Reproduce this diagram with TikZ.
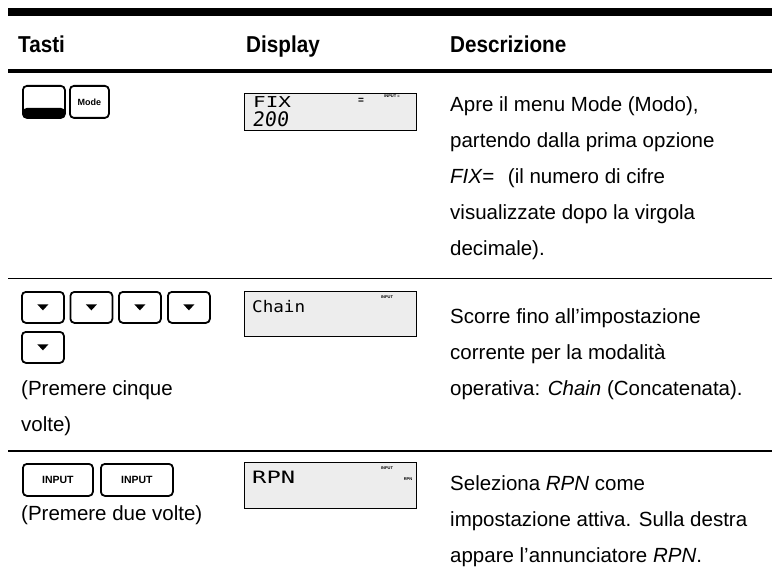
\documentclass[tikz,border=0pt]{standalone}
\usepackage{fontspec}
\usetikzlibrary{calc}
\setmainfont{Liberation Sans}
\newfontfamily\hdfont{Liberation Sans}[FakeStretch=0.9]
\newfontfamily\lcdA{DejaVu Sans Mono}[FakeStretch=1.4]
\newfontfamily\lcdB{DejaVu Sans Mono}[FakeStretch=1.1]
\newfontfamily\lcdD{DejaVu Sans Mono}[FakeSlant=0.12]
\definecolor{lcdgray}{HTML}{EDEDED}
\begin{document}
\begin{tikzpicture}[x=1pt,y=-1pt,
  body/.style={anchor=base west, inner sep=0pt, font=\fontsize{20.5}{24}\selectfont},
  head/.style={anchor=base west, inner sep=0pt, font=\hdfont\bfseries\fontsize{23}{27}\selectfont},
  key/.style={draw=black, line width=1.8pt, rounded corners=4pt, fill=white, inner sep=0pt, anchor=north west},
  keydown/.style={key, minimum width=42pt, minimum height=31pt},
  keyshift/.style={key, minimum width=42pt, minimum height=32pt,
    path picture={\fill[black] (path picture bounding box.south west) rectangle ([yshift=10pt]path picture bounding box.south east);}},
  keylbl/.style={font=\bfseries\fontsize{10.5}{12}\selectfont},
  lcd/.style={draw=black, line width=1.3pt, fill=lcdgray, inner sep=0pt, anchor=north west, minimum width=172pt},
  lcdtxt/.style={anchor=base west, inner sep=0pt},
  ann/.style={inner sep=0pt, font=\bfseries\fontsize{4}{4}\selectfont}
]
\useasboundingbox (0,0) rectangle (772,578);
% rules
\fill (8,8) rectangle (772,16);
\fill (8,69) rectangle (772,73);
\fill (8,277.6) rectangle (772,279.4);
\fill (8,450.1) rectangle (772,451.9);

% header
\node[head] (h1) at (18,53) {Tasti};
\node[head] (h2) at (246,53) {Display};
\node[head] (h3) at (450,53) {Descrizione};

% ---------- row 1
\node[keyshift] (k11) at (22,85) {};
\node[key, keylbl, minimum width=39pt, minimum height=32pt, font=\bfseries\fontsize{9}{10}\selectfont] (k12) at (69,85) {Mode};
\node[lcd, minimum height=37pt] (d1) at (244,93) {};
\node[lcdtxt, font=\lcdA\fontsize{15}{15}\selectfont] (d1a) at (253,107) {FIX};
\node[lcdtxt, font=\lcdD\fontsize{20}{20}\selectfont] (d1b) at (252,127) {200};
\node[inner sep=0pt, font=\bfseries\fontsize{10}{10}\selectfont] (d1c) at (361,101) {=};
\node[ann] (d1d) at (392,96) {INPUT =};

\node[body] (t11) at (450,111) {Apre il menu Mode (Modo),};
\node[body] (t12) at (450,147) {partendo dalla prima opzione};
\node[body] (t13) at (450,183) {\textit{FIX=}\hspace{0.4em} (il numero di cifre};
\node[body] (t14) at (450,219) {visualizzate dopo la virgola};
\node[body] (t15) at (450,255) {decimale).};

% ---------- row 2
\node[keydown] (k21) at (21,291) {};
\node[keydown] (k22) at (69.5,291) {};
\node[keydown] (k23) at (118,291) {};
\node[keydown] (k24) at (167,291) {};
\node[keydown] (k25) at (21,331) {};
\foreach \k in {k21,k22,k23,k24,k25}
  \fill[black] ($(\k.center)+(-5.5,-3)$) -- ($(\k.center)+(5.5,-3)$) -- ($(\k.center)+(0,3)$) -- cycle;
\node[body] (l21) at (21,395) {(Premere cinque};
\node[body] (l22) at (21,431) {volte)};

\node[lcd, minimum height=45pt] (d2) at (244,291) {};
\node[lcdtxt, font=\lcdB\fontsize{16}{16}\selectfont] (d2a) at (252,312) {Chain};
\node[ann] (d2b) at (387,297) {INPUT};

\node[body] (t21) at (450,323) {Scorre fino all’impostazione};
\node[body] (t22) at (450,359) {corrente per la modalità};
\node[body] (t23) at (450,395) {operativa: \textit{Chain} (Concatenata).};

% ---------- row 3
\node[key, keylbl, minimum width=70pt, minimum height=32pt] (k31) at (22,463) {INPUT};
\node[key, keylbl, minimum width=72pt, minimum height=32pt] (k32) at (100,463) {INPUT};
\node[body] (l31) at (21,520) {(Premere due volte)};

\node[lcd, minimum height=46pt] (d3) at (244,462) {};
\node[lcdtxt, font=\lcdA\fontsize{17}{17}\selectfont] (d3a) at (252,483) {RPN};
\node[ann] (d3b) at (387,468) {INPUT};
\node[ann] (d3c) at (408,479) {RPN};

\node[body] (t31) at (450,490) {Seleziona \textit{RPN} come};
\node[body] (t32) at (450,526) {impostazione attiva. Sulla destra};
\node[body] (t33) at (450,562) {appare l’annunciatore \textit{RPN}.};
\end{tikzpicture}
\end{document}
